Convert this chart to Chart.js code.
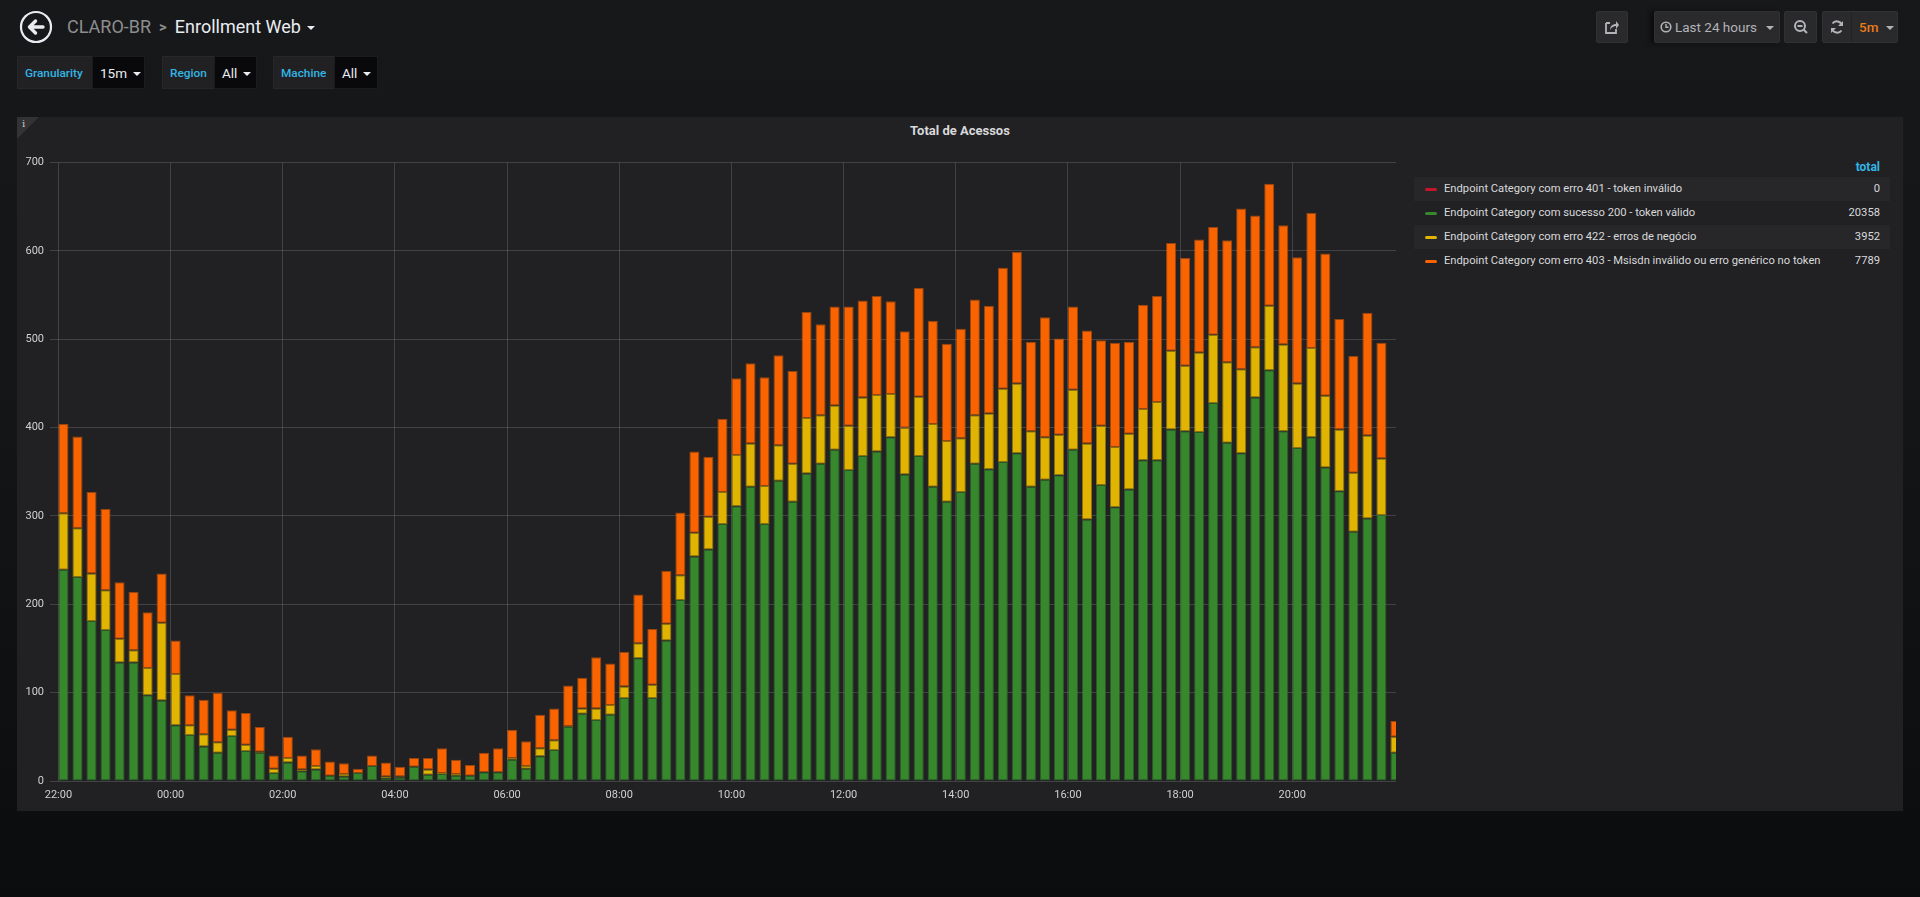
<!DOCTYPE html>
<html>
<head>
<meta charset="utf-8">
<title>Enrollment Web</title>
<script src="https://cdn.jsdelivr.net/npm/chart.js@4.4.1/dist/chart.umd.min.js"></script>
<style>
    html, body {
        margin: 0;
        padding: 0;
        width: 1920px;
        height: 897px;
        overflow: hidden;
        font-family: Roboto, "Helvetica Neue", Arial, sans-serif;
        background: linear-gradient(to bottom, #17181a 0px, #141517 420px, #0b0c0e 897px);
        color: #d8d9da;
    }
    .abs { position: absolute; }

    .crumb { left: 67px; top: 13px; font-size: 18px; line-height: 28px; white-space: nowrap; }
    .crumb .folder { color: #8e8e8e; }
    .crumb .sep { color: #8e8e8e; font-size: 15px; font-weight: 700; margin: 0 8px 0 8px; position: relative; top: -1px; }
    .crumb .dash { color: #e9edf2; }
    .caret {
        display: inline-block; width: 0; height: 0;
        border-left: 4px solid transparent; border-right: 4px solid transparent;
        border-top: 4px solid currentColor; vertical-align: middle; margin-left: 6px;
    }

    .var-label, .var-value {
        top: 56px; height: 33px; line-height: 33px; box-sizing: border-box;
        font-size: 11.8px; white-space: nowrap;
    }
    .var-label { background: #212124; color: #33b5e5; font-weight: 500; padding-left: 7px; border: 1px solid #27272a; border-right: none; }
    .var-value { background: #09090b; color: #e9edf2; font-size: 13.5px; padding-left: 7px; border: 1px solid #1c1c1f; }

    .btn {
        top: 11px; height: 32px; background: #2a2a2d; border: 1px solid #313134;
        box-sizing: border-box; border-radius: 2px; color: #b1b3b6; font-size: 13.5px;
        line-height: 30px; text-align: center; white-space: nowrap;
    }

    .panel { left: 17px; top: 117px; width: 1886px; height: 694px; background: #212124; }
    .corner {
        left: 0; top: 0; width: 0; height: 0;
        border-top: 22px solid #333336; border-right: 22px solid transparent;
    }
    .corner-i { left: 5px; top: 1px; font-size: 10px; color: #c8c8c8; font-family: "DejaVu Serif", serif; }
    .title { left: 0; width: 100%; top: 6px; text-align: center; font-size: 13px; font-weight: 700; color: #d8d9da; }

    #chartBox { left: 0px; top: 33px; width: 1379px; height: 655px; }

    .legend { left: 1397px; top: 40px; width: 476px; font-size: 11.2px; color: #d8d9da; }
    .legend .head { text-align: right; padding-right: 10px; color: #33b5e5; font-weight: 700; font-size: 12px; height: 20px; line-height: 20px; }
    .legend .row { position: relative; height: 24px; line-height: 24px; }
    .legend .row.odd { background: #27272a; }
    .legend .swatch { position: absolute; left: 11px; top: 11px; width: 12px; height: 3px; border-radius: 2px; }
    .legend .name { position: absolute; left: 30px; }
    .legend .val { position: absolute; right: 10px; }
</style>
</head>
<body>

<!-- top navbar -->
<svg class="abs" style="left:19px;top:10px" width="34" height="34" viewBox="0 0 34 34">
    <circle cx="17" cy="17" r="15" fill="none" stroke="#e9edf2" stroke-width="2.2"/>
    <path d="M10.5 17 L16.5 11 M10.5 17 L16.5 23 M11 17 L24 17" stroke="#e9edf2" stroke-width="3.4" stroke-linecap="round" stroke-linejoin="round" fill="none"/>
</svg>
<div class="abs crumb">
    <span class="folder">CLARO-BR</span><span class="sep">&gt;</span><span class="dash">Enrollment Web</span><span class="caret" style="color:#e9edf2"></span>
</div>

<div class="abs btn" style="left:1596px;width:32px;">
    <svg width="16" height="16" viewBox="0 0 16 16" style="margin-top:7px">
        <path d="M2 4 H6 M2 4 V14 H12 V10" stroke="#b1b3b6" stroke-width="1.8" fill="none"/>
        <path d="M6 11 C6 7 9 5 12 5 V2 L15 6 L12 10 V7 C10 7 7.5 8 6 11 Z" fill="#b1b3b6"/>
    </svg>
</div>
<div class="abs btn" style="left:1654px;width:126px;box-shadow:-4px 0 4px rgba(0,0,0,0.5);">
    <svg width="12" height="12" viewBox="0 0 12 12" style="vertical-align:-1px">
        <circle cx="6" cy="6" r="4.8" stroke="#b1b3b6" stroke-width="1.6" fill="none"/>
        <path d="M6 3 V6.3 H8.5" stroke="#b1b3b6" stroke-width="1.4" fill="none"/>
    </svg> Last 24 hours <span class="caret"></span>
</div>
<div class="abs btn" style="left:1784px;width:33px;">
    <svg width="16" height="16" viewBox="0 0 16 16" style="margin-top:7px">
        <circle cx="7" cy="7" r="5" stroke="#b1b3b6" stroke-width="2" fill="none"/>
        <path d="M4.5 7 H9.5 M10.5 10.5 L14 14" stroke="#b1b3b6" stroke-width="2"/>
    </svg>
</div>
<div class="abs btn" style="left:1822px;width:76px;text-align:left;">
    <svg width="16" height="16" viewBox="0 0 16 16" style="margin:7px 0 0 6px;vertical-align:top">
        <path d="M13 6 A5.5 5.5 0 0 0 3.5 4.5 M3 10 A5.5 5.5 0 0 0 12.5 11.5" stroke="#b1b3b6" stroke-width="2" fill="none"/>
        <path d="M14 2 V7 H9 Z M2 14 V9 H7 Z" fill="#b1b3b6"/>
    </svg>
    <span style="position:absolute;left:28px;top:0;bottom:0;border-left:1px solid #222224"></span>
    <span style="position:absolute;left:36px;color:#eb7b18;font-weight:500">5m <span class="caret" style="color:#b1b3b6;margin-left:4px"></span></span>
</div>

<!-- template variables -->
<div class="abs var-label" style="left:17px;width:75px;">Granularity</div>
<div class="abs var-value" style="left:92px;width:53px;">15m<span class="caret"></span></div>
<div class="abs var-label" style="left:162px;width:52px;">Region</div>
<div class="abs var-value" style="left:214px;width:43px;">All<span class="caret"></span></div>
<div class="abs var-label" style="left:273px;width:61px;">Machine</div>
<div class="abs var-value" style="left:334px;width:44px;">All<span class="caret"></span></div>

<!-- panel -->
<div class="abs panel">
    <div class="abs corner"></div>
    <div class="abs corner-i">i</div>
    <div class="abs title">Total de Acessos</div>
    <div class="abs" id="chartBox"><canvas id="accessChart"></canvas></div>
    <div class="abs legend" id="legend"></div>
</div>

<script>
// 15 minute buckets, last 24 hours
const TIMES = [
    '22:00', '22:15', '22:30', '22:45', '23:00', '23:15', '23:30', '23:45',
    '00:00', '00:15', '00:30', '00:45', '01:00', '01:15', '01:30', '01:45',
    '02:00', '02:15', '02:30', '02:45', '03:00', '03:15', '03:30', '03:45',
    '04:00', '04:15', '04:30', '04:45', '05:00', '05:15', '05:30', '05:45',
    '06:00', '06:15', '06:30', '06:45', '07:00', '07:15', '07:30', '07:45',
    '08:00', '08:15', '08:30', '08:45', '09:00', '09:15', '09:30', '09:45',
    '10:00', '10:15', '10:30', '10:45', '11:00', '11:15', '11:30', '11:45',
    '12:00', '12:15', '12:30', '12:45', '13:00', '13:15', '13:30', '13:45',
    '14:00', '14:15', '14:30', '14:45', '15:00', '15:15', '15:30', '15:45',
    '16:00', '16:15', '16:30', '16:45', '17:00', '17:15', '17:30', '17:45',
    '18:00', '18:15', '18:30', '18:45', '19:00', '19:15', '19:30', '19:45',
    '20:00', '20:15', '20:30', '20:45', '21:00', '21:15', '21:30', '21:45'
];

const ERR_401 = [
    0, 0, 0, 0, 0, 0, 0, 0, 0, 0, 0, 0, 0, 0, 0, 0, 0, 0, 0, 0, 0, 0, 0, 0,
    0, 0, 0, 0, 0, 0, 0, 0, 0, 0, 0, 0, 0, 0, 0, 0, 0, 0, 0, 0, 0, 0, 0, 0,
    0, 0, 0, 0, 0, 0, 0, 0, 0, 0, 0, 0, 0, 0, 0, 0, 0, 0, 0, 0, 0, 0, 0, 0,
    0, 0, 0, 0, 0, 0, 0, 0, 0, 0, 0, 0, 0, 0, 0, 0, 0, 0, 0, 0, 0, 0, 0, 0
];

const OK_200 = [
    239, 231, 181, 171, 134, 134, 97, 91, 63, 52,
    39, 32, 51, 34, 32, 9, 21, 11, 13, 6,
    5, 9, 17, 3, 4, 16, 7, 8, 6, 6,
    10, 10, 24, 14, 28, 35, 61, 76, 69, 75,
    94, 139, 94, 159, 205, 254, 262, 291, 311, 333,
    291, 340, 316, 348, 359, 375, 352, 368, 373, 389,
    347, 368, 333, 316, 327, 359, 353, 361, 371, 333,
    341, 346, 375, 296, 335, 310, 330, 363, 363, 398,
    396, 395, 428, 383, 371, 434, 465, 396, 377, 389,
    355, 328, 282, 297, 301, 32
];

const ERR_422 = [
    64, 55, 54, 45, 27, 14, 31, 88, 58, 11,
    14, 12, 7, 7, 1, 5, 5, 2, 4, 0,
    3, 0, 0, 2, 1, 0, 6, 1, 2, 0,
    0, 0, 2, 3, 9, 11, 1, 6, 13, 11,
    13, 17, 15, 19, 28, 27, 37, 36, 58, 49,
    43, 40, 43, 63, 55, 50, 50, 66, 64, 49,
    53, 67, 71, 69, 61, 55, 63, 83, 79, 63,
    48, 46, 68, 86, 67, 68, 63, 58, 66, 89,
    74, 90, 77, 91, 95, 57, 73, 98, 73, 101,
    81, 70, 67, 94, 64, 18
];

const ERR_403 = [
    101, 104, 92, 92, 64, 66, 63, 56, 38, 34,
    39, 56, 22, 36, 28, 15, 24, 16, 19, 16,
    12, 5, 12, 16, 11, 10, 13, 28, 16, 12,
    22, 27, 32, 28, 38, 36, 46, 35, 58, 47,
    39, 55, 63, 60, 71, 92, 68, 83, 87, 91,
    123, 102, 105, 120, 103, 112, 135, 110, 112, 105,
    109, 123, 117, 110, 124, 131, 122, 137, 149, 101,
    136, 109, 94, 128, 97, 118, 104, 118, 120, 122,
    122, 128, 122, 138, 182, 149, 138, 135, 143, 153,
    161, 125, 132, 139, 131, 18
];

const SERIES_NAMES = [
    'Endpoint Category com erro 401 - token inválido',
    'Endpoint Category com sucesso 200 - token válido',
    'Endpoint Category com erro 422 - erros de negócio',
    'Endpoint Category com erro 403 - Msisdn inválido ou erro genérico no token'
];
const SERIES_TOTALS = [0, 20358, 3952, 7789];
const SERIES_COLORS = ['#C4162A', '#37872D', '#E0B400', '#FA6400'];

const X_TICKS = ['22:00', '00:00', '02:00', '04:00', '06:00', '08:00', '10:00',
                 '12:00', '14:00', '16:00', '18:00', '20:00'];
const Y_TICKS = [0, 100, 200, 300, 400, 500, 600, 700];
const RANGE_FROM = '21:51';   // "Last 24 hours" window
const BUCKET_MIN = 15;
const BAR_PCT = 0.72;

// minutes since the first bucket, wrapping past midnight
function clockMinutes(t) {
    const [h, m] = t.split(':').map(Number);
    return h * 60 + m;
}
const START = clockMinutes(TIMES[0]);
function sinceStart(t) {
    let v = clockMinutes(t) - START;
    if (v < -60) v += 1440;
    return v;
}
const bucketOffsets = (() => {
    let day = 0, prev = -Infinity;
    return TIMES.map(t => {
        let v = clockMinutes(t) - START + day;
        if (v < prev) { day += 1440; v += 1440; }
        prev = v;
        return v;
    });
})();

// grafana draws each bar from the bucket start
function toPoints(values) {
    return values.map((y, i) => ({ x: bucketOffsets[i] + BUCKET_MIN * BAR_PCT / 2, y }));
}

function withAlpha(hex, a) {
    const n = parseInt(hex.slice(1), 16);
    return `rgba(${(n >> 16) & 255},${(n >> 8) & 255},${n & 255},${a})`;
}

function buildLegend() {
    const el = document.getElementById('legend');
    let html = '<div class="head">total</div>';
    SERIES_NAMES.forEach((name, i) => {
        html += `<div class="row${i % 2 === 0 ? ' odd' : ''}">` +
            `<span class="swatch" style="background:${SERIES_COLORS[i]}"></span>` +
            `<span class="name">${name}</span>` +
            `<span class="val">${SERIES_TOTALS[i]}</span></div>`;
    });
    el.innerHTML = html;
}

function createChart() {
    const canvas = document.getElementById('accessChart');
    Chart.defaults.font.family = 'Roboto, "Helvetica Neue", Arial, sans-serif';
    Chart.defaults.color = '#cfd0d1';

    const seriesValues = [ERR_401, OK_200, ERR_422, ERR_403];
    const fromMin = sinceStart(RANGE_FROM);

    new Chart(canvas, {
        type: 'bar',
        data: {
            datasets: seriesValues.map((vals, i) => ({
                label: SERIES_NAMES[i],
                data: toPoints(vals),
                backgroundColor: SERIES_COLORS[i],
                borderColor: withAlpha(SERIES_COLORS[i], 0.55),
                borderWidth: i === 0 ? 0 : 1,
                borderSkipped: false,
                categoryPercentage: 1,
                barPercentage: BAR_PCT,
                clip: 0
            }))
        },
        options: {
            animation: false,
            responsive: true,
            maintainAspectRatio: false,
            layout: { padding: { top: 12, right: 0, left: 0, bottom: 0 } },
            scales: {
                x: {
                    type: 'linear',
                    stacked: true,
                    min: fromMin,
                    max: fromMin + 1440,
                    offset: false,
                    afterBuildTicks: scale => {
                        scale.ticks = X_TICKS.map(t => ({ value: sinceStart(t) }));
                    },
                    afterFit: scale => { scale.height = 24; },
                    ticks: {
                        autoSkip: false,
                        maxRotation: 0,
                        padding: 8,
                        font: { size: 11 },
                        callback: (v, i) => X_TICKS[i]
                    },
                    grid: { color: 'rgba(255,255,255,0.15)', drawTicks: false, offset: false },
                    border: { display: false }
                },
                y: {
                    stacked: true,
                    min: Y_TICKS[0],
                    max: Y_TICKS[Y_TICKS.length - 1],
                    afterBuildTicks: scale => {
                        scale.ticks = Y_TICKS.map(v => ({ value: v }));
                    },
                    afterFit: scale => { scale.width = 33; },
                    ticks: { padding: 6, font: { size: 11 } },
                    grid: { color: 'rgba(255,255,255,0.15)', drawTicks: false },
                    border: { display: false }
                }
            },
            plugins: {
                legend: { display: false },
                tooltip: { enabled: false }
            }
        }
    });
}

buildLegend();
createChart();
</script>
</body>
</html>
